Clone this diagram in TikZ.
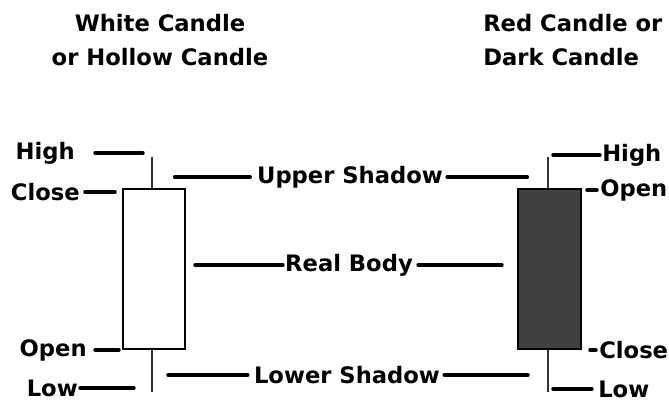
\documentclass[tikz,border=0pt]{standalone}
\usepackage{fontspec}
\setmainfont{DejaVu Sans}

\begin{document}
\begin{tikzpicture}[x = 0.75pt, y = -0.75pt,
    lbl/.style = {inner sep = 0pt, font = \bfseries\fontsize{17}{26}\selectfont},
    lead/.style = {line width = 2.6pt, line cap = round},
    wick/.style = {line width = 1pt, draw = black!80}]
    \useasboundingbox (0,0) rectangle (669,402);
    % titles
    \node [lbl, align = center] (TW) at (160,40) {White Candle\\or Hollow Candle};
    \node [lbl, align = left, anchor = west] (TR) at (483,40) {Red Candle or\\Dark Candle};
    % white candle
    \draw [wick] (152,157) coordinate (WH) -- (152,392) coordinate (WL);
    \draw [fill = white, line width = 0.9pt] (123,189) rectangle (185,349);
    \coordinate (WC) at (123,192);
    \coordinate (WO) at (123,350);
    \coordinate (WB) at (185,265);
    % dark candle
    \draw [wick] (548,157) coordinate (DH) -- (548,392) coordinate (DL);
    \draw [fill = black!75, line width = 0.9pt] (518,189) rectangle (581,349);
    \coordinate (DO) at (581,190);
    \coordinate (DC) at (581,350);
    \coordinate (DB) at (518,265);
    % left labels
    \node [lbl, anchor = east] (HighL) at (75,153) {High};
    \node [lbl, anchor = east] (CloseL) at (80,192) {Close};
    \node [lbl, anchor = east] (OpenL) at (87,350) {Open};
    \node [lbl, anchor = east] (LowL) at (78,388) {Low};
    \draw [lead, shorten <= 15pt, shorten >= 6.75pt] (HighL.east) -- (HighL.east -| WH);
    \draw [lead, shorten <= 3.75pt, shorten >= 6pt] (CloseL.east) -- (WC);
    \draw [lead, shorten <= 6pt, shorten >= 3pt] (OpenL.east) -- (WO);
    \draw [lead, shorten <= 1.5pt, shorten >= 13.5pt] (LowL.east) -- (LowL.east -| WL);
    % middle labels
    \node [lbl] (Upper) at (350,177) {Upper Shadow};
    \node [lbl] (Body) at (349,265) {Real Body};
    \node [lbl] (Lower) at (347,375) {Lower Shadow};
    \draw [lead, shorten <= 5pt, shorten >= 17pt] (Upper.west) -- (Upper.west -| WH);
    \draw [lead, shorten <= 3pt, shorten >= 15.5pt] (Upper.east) -- (Upper.east -| DH);
    \draw [lead, shorten <= 1.5pt, shorten >= 7.5pt] (Body.west) -- (WB);
    \draw [lead, shorten <= 3.75pt, shorten >= 12pt] (Body.east) -- (DB);
    \draw [lead, shorten <= 4.5pt, shorten >= 12pt] (Lower.west) -- (Lower.west -| WL);
    \draw [lead, shorten <= 3pt, shorten >= 15pt] (Lower.east) -- (Lower.east -| DL);
    % right labels
    \node [lbl, anchor = west] (HighR) at (602,155) {High};
    \node [lbl, anchor = west] (OpenR) at (600,190) {Open};
    \node [lbl, anchor = west] (CloseR) at (599,350) {Close};
    \node [lbl, anchor = west] (LowR) at (598,389) {Low};
    \draw [lead, shorten <= 1.5pt, shorten >= 3.75pt] (HighR.west) -- (HighR.west -| DH);
    \draw [lead, shorten <= 2.25pt, shorten >= 4.5pt] (OpenR.west) -- (DO);
    \draw [lead, shorten <= 2.25pt, shorten >= 6.75pt] (CloseR.west) -- (DC);
    \draw [lead, shorten <= 4.5pt, shorten >= 3.75pt] (LowR.west) -- (LowR.west -| DL);
\end{tikzpicture}
\end{document}
